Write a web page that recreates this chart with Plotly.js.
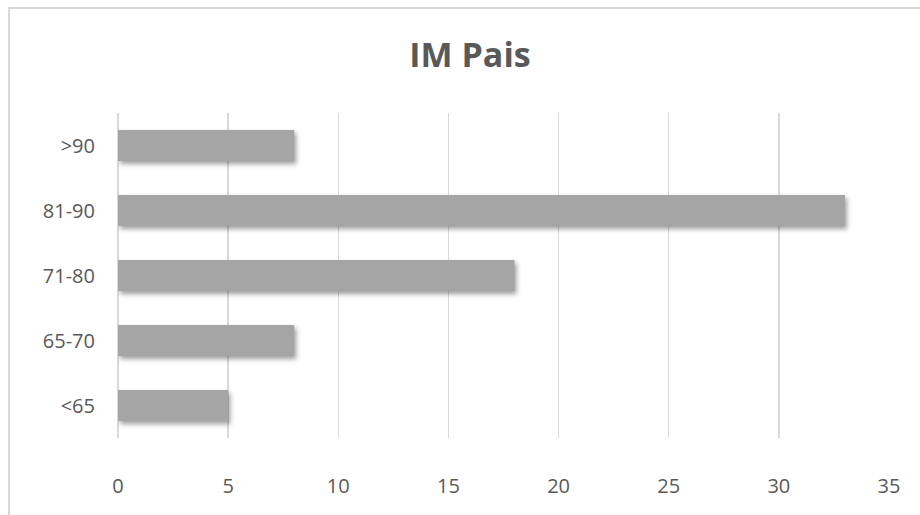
<!DOCTYPE html>
<html>
<head>
<meta charset="utf-8">
<script src="https://cdn.plot.ly/plotly-3.0.1.min.js"></script>
<style>
  html, body { margin: 0; padding: 0; background: #ffffff; }
  #frame { position: absolute; left: 8px; top: 7px; width: 1000px; height: 600px;
           border-top: 2px solid #d9d9d9; border-left: 2px solid #d9d9d9; box-sizing: border-box; }
  #chart { position: absolute; left: 0; top: 0; width: 920px; height: 515px; }
  #chart .trace.bars path { filter: drop-shadow(2px 3px 2.5px rgba(0,0,0,0.38)); }
</style>
</head>
<body>
<div id="frame"></div>
<div id="chart"></div>
<script>
const categories = ["<65", "65-70", "71-80", "81-90", ">90"];
const values = [5, 8, 18, 33, 8];
const xTicks = [0, 5, 10, 15, 20, 25, 30, 35];
const chartTitle = "IM Pais";

const data = [{
  type: "bar",
  orientation: "h",
  y: categories,
  x: values,
  marker: { color: "#a5a5a5", line: { width: 0 } },
  hoverinfo: "x+y"
}];

const layout = {
  width: 920,
  height: 515,
  paper_bgcolor: "rgba(0,0,0,0)",
  plot_bgcolor: "rgba(0,0,0,0)",
  margin: { l: 118, r: 31, t: 113, b: 77, pad: 0 },
  showlegend: false,
  bargap: 0.52,
  title: {
    text: "<b>" + chartTitle + "</b>",
    font: { family: "Open Sans, sans-serif", size: 34, color: "#595959" },
    x: 470 / 920, xanchor: "center", xref: "container",
    y: 1 - 55 / 515, yanchor: "middle", yref: "container"
  },
  xaxis: {
    range: [0, 35],
    tickvals: xTicks,
    ticktext: xTicks.map(String),
    showgrid: true,
    gridcolor: "#d9d9d9",
    gridwidth: 1.5,
    zeroline: true,
    zerolinecolor: "#d9d9d9",
    zerolinewidth: 1.5,
    showline: false,
    ticks: "",
    ticklabelstandoff: 34,
    tickfont: { family: "Open Sans, sans-serif", size: 20, color: "#595959" },
    fixedrange: true
  },
  yaxis: {
    categoryorder: "array",
    categoryarray: categories,
    showgrid: false,
    zeroline: false,
    showline: false,
    ticks: "",
    ticklabelstandoff: 22,
    tickfont: { family: "Open Sans, sans-serif", size: 20, color: "#595959" },
    fixedrange: true
  }
};

Plotly.newPlot("chart", data, layout, { displayModeBar: false, staticPlot: true });
</script>
</body>
</html>
